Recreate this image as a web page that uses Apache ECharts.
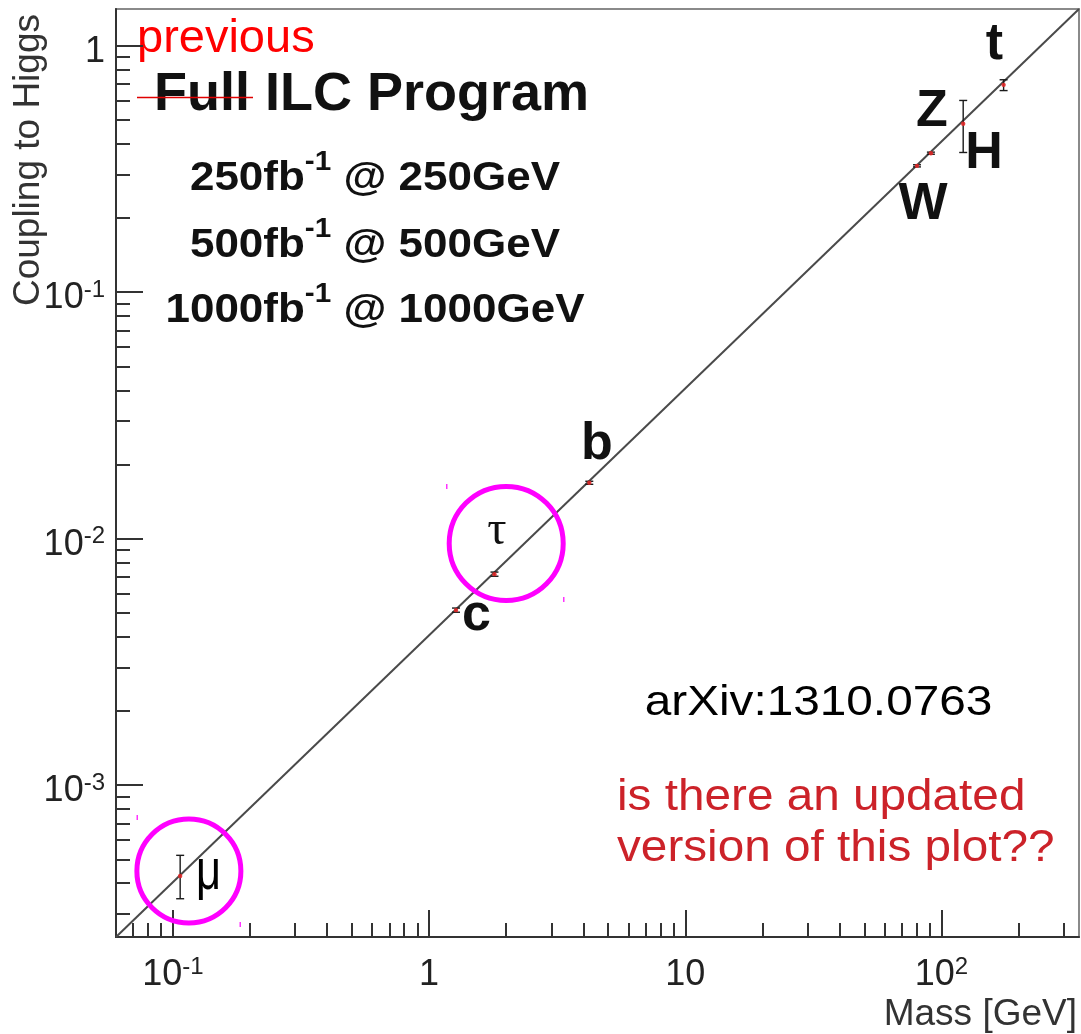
<!DOCTYPE html>
<html>
<head>
<meta charset="utf-8">
<script src="https://cdn.jsdelivr.net/npm/echarts@6/dist/echarts.min.js"></script>
<style>
  html, body { margin: 0; padding: 0; background: #fff; }
  #chart { width: 1081px; height: 1034px; }
</style>
</head>
<body>
<div id="chart"></div>
<script>
// Axis ranges (GeV on x, coupling on y)
const massRange = [0.06, 344];
const couplingRange = [2.42e-4, 1.41];

// Tick positions and labels
const xMajorTicks = [0.1, 1, 10, 100];
const xTickLabels = ['10^-1', '1', '10', '10^2'];
const xMinorTicks = [0.07, 0.08, 0.09,
  0.2, 0.3, 0.4, 0.5, 0.6, 0.7, 0.8, 0.9,
  2, 3, 4, 5, 6, 7, 8, 9,
  20, 30, 40, 50, 60, 70, 80, 90,
  200, 300];
const yMajorTicks = [0.001, 0.01, 0.1, 1];
const yTickLabels = ['10^-3', '10^-2', '10^-1', '1'];
const yMinorTicks = [3e-4, 4e-4, 5e-4, 6e-4, 7e-4, 8e-4, 9e-4,
  0.002, 0.003, 0.004, 0.005, 0.006, 0.007, 0.008, 0.009,
  0.02, 0.03, 0.04, 0.05, 0.06, 0.07, 0.08, 0.09,
  0.2, 0.3, 0.4, 0.5, 0.6, 0.7, 0.8, 0.9];

// Projected Higgs couplings with uncertainty bands
const particles = ['μ', 'c', 'τ', 'b', 'W', 'Z', 'H', 't'];
const massGeV   = [0.1068, 1.274, 1.80, 4.22, 80.2, 90.9, 121.5, 174.7];
const coupling  = [4.28e-4, 5.13e-3, 7.18e-3, 0.01686, 0.3257, 0.3666, 0.4825, 0.694];
const errLow    = [3.46e-4, 5.03e-3, 7.04e-3, 0.01662, 0.3225, 0.3630, 0.369, 0.658];
const errHigh   = [5.19e-4, 5.23e-3, 7.32e-3, 0.01710, 0.3290, 0.3702, 0.600, 0.728];

// Reference line: coupling proportional to mass
const diagonalMass = [0.06, 344];
const diagonalCoupling = [2.42e-4, 1.41];

// Highlight rings (centre mass, centre coupling)
const ringMass = [2.0, 0.1155];
const ringCoupling = [9.57e-3, 4.48e-4];

// Run scenarios: luminosity / energy
const runLumi = ['250fb', '500fb', '1000fb'];
const runEnergy = ['250GeV', '500GeV', '1000GeV'];

const FONT = '"Liberation Sans", Arial, Helvetica, sans-serif';
const AXIS_DARK = '#333';
const LABEL_COL = '#222';

function tickFormatter(majors, labels) {
  return function (v) {
    const i = majors.findIndex(t => Math.abs(Math.log10(t) - v) < 1e-6);
    if (i < 0) return '';
    const parts = labels[i].split('^');
    return parts[1] ? '{b|' + parts[0] + '}{s|' + parts[1] + '}' : '{b|' + parts[0] + '}';
  };
}

const tickRich = {
  b: { fontSize: 36, lineHeight: 40, fontFamily: FONT, color: LABEL_COL },
  s: { fontSize: 24, lineHeight: 26, verticalAlign: 'top', fontFamily: FONT, color: LABEL_COL }
};

function exponentAxis(range, extra) {
  return Object.assign({
    type: 'value',
    min: Math.log10(range[0]),
    max: Math.log10(range[1]),
    splitLine: { show: false },
    axisPointer: { show: false }
  }, extra);
}

// text measuring for the superscript run lines
const measureCtx = document.createElement('canvas').getContext('2d');
function textWidth(str, size) {
  measureCtx.font = 'bold ' + size + 'px ' + FONT;
  return measureCtx.measureText(str).width;
}

function runLine(lumi, energy, centerX, midY) {
  const MAIN = 40, SUP = 27, SX = 1.1;
  const left = lumi, sup = '-1', right = ' @ ' + energy;
  const w1 = textWidth(left, MAIN), w2 = textWidth(sup, SUP), w3 = textWidth(right, MAIN);
  const total = (w1 + w2 + w3) * SX;
  const base = { verticalAlign: 'middle', align: 'left', fontWeight: 'bold', fontFamily: FONT, fill: '#111' };
  return {
    type: 'group', x: centerX - total / 2, y: midY, scaleX: SX, silent: true,
    children: [
      { type: 'text', x: 0, y: 0, style: Object.assign({ text: left, fontSize: MAIN }, base) },
      { type: 'text', x: w1, y: -16.5, style: Object.assign({ text: sup, fontSize: SUP }, base) },
      { type: 'text', x: w1 + w2, y: 0, style: Object.assign({ text: right, fontSize: MAIN }, base) }
    ]
  };
}

const chart = echarts.init(document.getElementById('chart'), null, { renderer: 'canvas' });

const option = {
  animation: false,
  backgroundColor: '#fff',
  grid: {
    left: 116, top: 9, right: 2, bottom: 97,
    show: true, borderColor: '#8a8a8a', borderWidth: 2, backgroundColor: 'transparent'
  },
  xAxis: [
    { type: 'log', logBase: 10, min: massRange[0], max: massRange[1], show: false },
    exponentAxis(massRange, {
      position: 'bottom',
      axisLine: { show: true, onZero: false, lineStyle: { color: AXIS_DARK, width: 2 } },
      axisTick: { show: true, inside: true, length: 27,
        customValues: xMajorTicks.map(Math.log10),
        lineStyle: { color: AXIS_DARK, width: 2 } },
      axisLabel: { show: true, customValues: xMajorTicks.map(Math.log10),
        formatter: tickFormatter(xMajorTicks, xTickLabels), margin: 18, rich: tickRich }
    }),
    exponentAxis(massRange, {
      position: 'bottom',
      axisLine: { show: false, onZero: false },
      axisTick: { show: true, inside: true, length: 14,
        customValues: xMinorTicks.map(Math.log10),
        lineStyle: { color: AXIS_DARK, width: 2 } },
      axisLabel: { show: false }
    })
  ],
  yAxis: [
    { type: 'log', logBase: 10, min: couplingRange[0], max: couplingRange[1], show: false },
    exponentAxis(couplingRange, {
      position: 'left',
      axisLine: { show: true, onZero: false, lineStyle: { color: AXIS_DARK, width: 2 } },
      axisTick: { show: true, inside: true, length: 27,
        customValues: yMajorTicks.map(Math.log10),
        lineStyle: { color: AXIS_DARK, width: 2 } },
      axisLabel: { show: true, customValues: yMajorTicks.map(Math.log10),
        formatter: tickFormatter(yMajorTicks, yTickLabels), margin: 11,
        padding: [12, 0, 0, 0], rich: tickRich }
    }),
    exponentAxis(couplingRange, {
      position: 'left',
      axisLine: { show: false, onZero: false },
      axisTick: { show: true, inside: true, length: 14,
        customValues: yMinorTicks.map(Math.log10),
        lineStyle: { color: AXIS_DARK, width: 2 } },
      axisLabel: { show: false }
    })
  ],
  series: [
    {
      type: 'line', xAxisIndex: 0, yAxisIndex: 0, silent: true,
      data: diagonalMass.map((m, i) => [m, diagonalCoupling[i]]),
      symbol: 'none',
      lineStyle: { color: '#4a4a4a', width: 2 },
      z: 2
    },
    {
      type: 'custom', xAxisIndex: 0, yAxisIndex: 0, silent: true,
      data: massGeV.map((m, i) => [m, coupling[i], errLow[i], errHigh[i]]),
      encode: { x: 0, y: 1 },
      renderItem: function (params, api) {
        const m = api.value(0);
        const p = api.coord([m, api.value(1)]);
        const lo = api.coord([m, api.value(2)]);
        const hi = api.coord([m, api.value(3)]);
        const cap = 4;
        const stroke = { stroke: '#1a1a1a', lineWidth: 1.4 };
        return {
          type: 'group',
          children: [
            { type: 'line', shape: { x1: lo[0], y1: lo[1], x2: hi[0], y2: hi[1] }, style: stroke },
            { type: 'line', shape: { x1: lo[0] - cap, y1: lo[1], x2: lo[0] + cap, y2: lo[1] }, style: stroke },
            { type: 'line', shape: { x1: hi[0] - cap, y1: hi[1], x2: hi[0] + cap, y2: hi[1] }, style: stroke },
            { type: 'circle', shape: { cx: p[0], cy: p[1], r: 2.2 }, style: { fill: 'rgba(225,40,40,0.9)' } }
          ]
        };
      },
      z: 3
    },
    {
      type: 'scatter', xAxisIndex: 0, yAxisIndex: 0, silent: true,
      data: ringMass.map((m, i) => [m, ringCoupling[i]]),
      symbol: 'circle',
      symbolSize: function (val, params) { return params.dataIndex === 0 ? 114 : 104; },
      itemStyle: { color: 'rgba(0,0,0,0)', borderColor: '#ff00ff', borderWidth: 5, opacity: 1 },
      z: 4
    }
  ],
  graphic: [
    // axis titles
    { type: 'text', x: 29, y: 14, rotation: Math.PI / 2, silent: true,
      style: { text: 'Coupling to Higgs', align: 'right', verticalAlign: 'middle',
        fontSize: 37, fontFamily: FONT, fill: '#333' } },
    { type: 'text', x: 1077, y: 1015, silent: true,
      style: { text: 'Mass [GeV]', align: 'right', verticalAlign: 'middle',
        fontSize: 37, fontFamily: FONT, fill: '#333' } },

    // headline block
    { type: 'text', x: 137, y: 39, silent: true,
      style: { text: 'previous', align: 'left', verticalAlign: 'middle',
        fontSize: 47, fontFamily: FONT, fill: '#ff0000' } },
    { type: 'text', x: 154, y: 95, silent: true,
      style: { text: 'Full ILC Program', align: 'left', verticalAlign: 'middle',
        fontSize: 54, fontWeight: 'bold', fontFamily: FONT, fill: '#111' } },
    { type: 'line', silent: true, z: 10,
      shape: { x1: 137, y1: 97.5, x2: 253, y2: 97.5 },
      style: { stroke: '#e00000', lineWidth: 1.3 } },

    // run scenarios
    ...runLumi.map((l, i) => runLine(l, runEnergy[i], 375, [179, 246, 311][i])),

    // particle names
    ...[['t', 994.5, 45], ['Z', 932, 112], ['H', 984, 154], ['W', 923, 205], ['b', 597, 445], ['c', 476.5, 616]].map(p => ({
      type: 'text', x: p[1], y: p[2], silent: true,
      style: { text: p[0], align: 'center', verticalAlign: 'middle',
        fontSize: 52, fontWeight: 'bold', fontFamily: FONT, fill: '#111' }
    })),
    { type: 'text', x: 497, y: 531.5, silent: true,
      style: { text: 'τ', align: 'center', verticalAlign: 'middle',
        fontSize: 48, fontFamily: '"Liberation Serif", "DejaVu Serif", serif', fill: '#111' } },
    { type: 'text', x: 208.5, y: 873, scaleX: 0.75, silent: true,
      style: { text: 'μ', align: 'center', verticalAlign: 'middle',
        fontSize: 58, fontFamily: FONT, fill: '#000' } },

    // source and remark
    { type: 'text', x: 818.5, y: 703, scaleX: 1.11, silent: true,
      style: { text: 'arXiv:1310.0763', align: 'center', verticalAlign: 'middle',
        fontSize: 43, fontFamily: FONT, fill: '#000' } },
    { type: 'text', x: 617, y: 797.5, scaleX: 1.06, silent: true,
      style: { text: 'is there an updated', align: 'left', verticalAlign: 'middle',
        fontSize: 45, fontFamily: FONT, fill: '#cc2229' } },
    { type: 'text', x: 617, y: 849, scaleX: 1.06, silent: true,
      style: { text: 'version of this plot??', align: 'left', verticalAlign: 'middle',
        fontSize: 45, fontFamily: FONT, fill: '#cc2229' } },

    // small selection marks
    ...[[446, 484], [563, 597], [136.5, 815], [239.5, 922]].map(s => ({
      type: 'rect', silent: true, shape: { x: s[0], y: s[1], width: 1.5, height: 5 },
      style: { fill: '#ff33ff' }
    }))
  ]
};

chart.setOption(option);
</script>
</body>
</html>
